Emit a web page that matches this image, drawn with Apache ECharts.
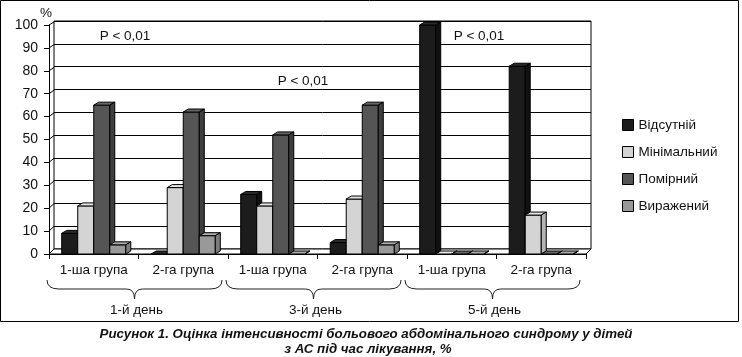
<!DOCTYPE html>
<html>
<head>
<meta charset="utf-8">
<script src="https://cdn.jsdelivr.net/npm/echarts@6/dist/echarts.min.js"></script>
<style>
html,body{margin:0;padding:0;background:#fff;}
#c{width:742px;height:357px;}
</style>
</head>
<body>
<div id="c"></div>
<script>
const categories = ['1-ша група', '2-га група', '1-ша група', '2-га група', '1-ша група', '2-га група'];
const days = ['1-й день', '3-й день', '5-й день'];
const seriesNames = ['Відсутній', 'Мінімальний', 'Помірний', 'Виражений'];
const absent   = [9, 0, 26, 5, 100, 82];
const minimal  = [21, 29, 21, 24, 0, 17];
const moderate = [65, 62, 52, 65, 0, 0];
const severe   = [4, 8, 0, 4, 0, 0];
const yTicks = {min: 0, max: 100, interval: 10};
const pLabels = ['P < 0,01', 'P < 0,01', 'P < 0,01'];
const captionLines = ['Рисунок 1. Оцінка інтенсивності больового абдомінального синдрому у дітей', 'з АС під час лікування, %'];

const seriesData = [absent, minimal, moderate, severe];
const faces = [
  {front: '#1c1c1c', top: '#2a2a2a', side: '#111111'},
  {front: '#d4d4d4', top: '#e6e6e6', side: '#b4b4b4'},
  {front: '#555555', top: '#666666', side: '#3e3e3e'},
  {front: '#999999', top: '#aaaaaa', side: '#7c7c7c'}
];
const FONT = '"Liberation Sans", Arial, sans-serif';
const DX = 5, DY = 3;

function barRenderer(s) {
  return function (params, api) {
    const c = api.value(0), v = api.value(1);
    const base = api.coord([c, 0]);
    const top = api.coord([c, v]);
    const cw = api.size([1, 0])[0];
    const bw = cw * 0.179;
    const x0 = base[0] - 2 * bw + s * bw;
    const x1 = x0 + bw;
    const y0 = base[1], y1 = top[1];
    const f = faces[s];
    const st = {stroke: '#000', lineWidth: 1, lineJoin: 'round'};
    return {
      type: 'group',
      children: [
        {type: 'rect', shape: {x: x0, y: y1, width: bw, height: y0 - y1}, style: Object.assign({fill: f.front}, st)},
        {type: 'polygon', shape: {points: [[x0, y1], [x1, y1], [x1 + DX, y1 - DY], [x0 + DX, y1 - DY]]}, style: Object.assign({fill: f.top}, st)},
        {type: 'polygon', shape: {points: [[x1, y1], [x1 + DX, y1 - DY], [x1 + DX, y0 - DY], [x1, y0]]}, style: Object.assign({fill: f.side}, st)}
      ]
    };
  };
}

const barSeries = seriesData.map((arr, s) => ({
  name: seriesNames[s],
  type: 'custom',
  xAxisIndex: 0, yAxisIndex: 0,
  z: 5,
  itemStyle: {color: faces[s].front, borderColor: '#000', borderWidth: 1},
  renderItem: barRenderer(s),
  encode: {x: 0, y: 1},
  data: arr.map((v, i) => [i, v])
}));

const floorSeries = {
  type: 'custom', xAxisIndex: 0, yAxisIndex: 0, z: 3, silent: true,
  renderItem: function (params, api) {
    const cw = api.size([1, 0])[0];
    const a = api.coord([0, 0]);
    const b = api.coord([categories.length - 1, 0]);
    const L = a[0] - cw / 2, R = b[0] + cw / 2, y = a[1];
    return {type: 'polygon', shape: {points: [[L, y], [R, y], [R + 5, y - 5], [L + 5, y - 5]]}, style: {fill: '#fff', stroke: '#000', lineWidth: 1}};
  },
  data: [[0, 0]]
};

const wallSeries = {
  type: 'custom', xAxisIndex: 0, yAxisIndex: 0, z: 2, silent: true, clip: false,
  renderItem: function (params, api) {
    const v = api.value(0);
    const cw = api.size([1, 0])[0];
    const p = api.coord([0, v]);
    const L = p[0] - cw / 2;
    return {type: 'line', shape: {x1: L, y1: p[1], x2: L + 5, y2: p[1] - 3 - (100 - v) * 0.02}, style: {stroke: '#000', lineWidth: 1}};
  },
  data: [[10], [20], [30], [40], [50], [60], [70], [80], [90], [100]]
};

const braceSeries = {
  type: 'custom', xAxisIndex: 0, yAxisIndex: 0, z: 4, silent: true, clip: false,
  renderItem: function (params, api) {
    const g = api.value(0);
    const cw = api.size([1, 0])[0];
    const a = api.coord([2 * g, 0]);
    const b = api.coord([2 * g + 1, 0]);
    const L = a[0] - cw / 2 - 2, R = b[0] + cw / 2 - 6, M = (L + R) / 2;
    const y0 = a[1];
    const yE = y0 + 26, yH = y0 + 35, yT = y0 + 45;
    const st = {stroke: '#222', lineWidth: 1, fill: null};
    return {
      type: 'group',
      children: [
        {type: 'bezierCurve', shape: {x1: L, y1: yE, cpx1: L, cpy1: yH, x2: L + 12, y2: yH}, style: st},
        {type: 'line', shape: {x1: L + 12, y1: yH, x2: M - 8, y2: yH}, style: st},
        {type: 'bezierCurve', shape: {x1: M - 8, y1: yH, cpx1: M, cpy1: yH, x2: M, y2: yT}, style: st},
        {type: 'bezierCurve', shape: {x1: M, y1: yT, cpx1: M, cpy1: yH, x2: M + 8, y2: yH}, style: st},
        {type: 'line', shape: {x1: M + 8, y1: yH, x2: R - 12, y2: yH}, style: st},
        {type: 'bezierCurve', shape: {x1: R - 12, y1: yH, cpx1: R, cpy1: yH, x2: R, y2: yE}, style: st},
        {type: 'text', x: M + 2, y: y0 + 56, style: {text: days[g], fill: '#111', font: '13.5px ' + FONT, align: 'center', verticalAlign: 'middle'}}
      ]
    };
  },
  data: days.map((d, i) => [i])
};

const chart = echarts.init(document.getElementById('c'), null, {renderer: 'canvas'});
chart.setOption({
  animation: false,
  backgroundColor: '#fff',
  textStyle: {fontFamily: FONT},
  grid: [
    {left: 49, top: 25, width: 537, height: 229, containLabel: false},
    {left: 54, top: 21, width: 537, height: 228, show: true, borderColor: '#000', borderWidth: 1, backgroundColor: 'transparent'}
  ],
  xAxis: [
    {type: 'category', gridIndex: 0, data: categories,
     axisLine: {lineStyle: {color: '#000', width: 1}},
     axisTick: {show: true, length: 5, interval: 0, lineStyle: {color: '#000'}},
     axisLabel: {interval: 0, margin: 9, fontSize: 13.5, color: '#111', fontFamily: FONT},
     splitLine: {show: false}},
    {type: 'category', gridIndex: 1, data: categories, show: false}
  ],
  yAxis: [
    {type: 'value', gridIndex: 0, min: yTicks.min, max: yTicks.max, interval: yTicks.interval,
     axisLine: {show: true, lineStyle: {color: '#000', width: 1}},
     axisTick: {show: true, length: 5, lineStyle: {color: '#000'}},
     axisLabel: {margin: 11, fontSize: 14, color: '#111', fontFamily: FONT},
     splitLine: {show: false}},
    {type: 'value', gridIndex: 1, min: yTicks.min, max: yTicks.max, interval: yTicks.interval,
     axisLine: {show: false}, axisTick: {show: false}, axisLabel: {show: false},
     splitLine: {show: true, lineStyle: {color: '#000', width: 1}}}
  ],
  legend: {
    orient: 'vertical', left: 617, top: 113,
    itemWidth: 11, itemHeight: 11, itemGap: 13,
    icon: 'rect',
    itemStyle: {borderColor: '#000', borderWidth: 1},
    textStyle: {fontSize: 13.5, color: '#111', fontFamily: FONT},
    data: seriesNames
  },
  graphic: [
    {type: 'rect', shape: {x: 0.5, y: 0.5, width: 738, height: 321}, style: {fill: null, stroke: '#000', lineWidth: 1}, z: 0, silent: true},
    {type: 'text', x: 46, y: 13, style: {text: '%', font: '13.5px ' + FONT, fill: '#111', align: 'center', verticalAlign: 'middle'}},
    {type: 'text', x: 125, y: 36, style: {text: pLabels[0], font: '13.5px ' + FONT, fill: '#111', align: 'center', verticalAlign: 'middle'}, z: 10},
    {type: 'text', x: 303, y: 81, style: {text: pLabels[1], font: '13.5px ' + FONT, fill: '#111', align: 'center', verticalAlign: 'middle'}, z: 10},
    {type: 'text', x: 479, y: 36, style: {text: pLabels[2], font: '13.5px ' + FONT, fill: '#111', align: 'center', verticalAlign: 'middle'}, z: 10},
    {type: 'text', x: 366, y: 334, style: {text: captionLines[0], font: 'italic bold 13.3px ' + FONT, fill: '#111', align: 'center', verticalAlign: 'middle'}},
    {type: 'text', x: 368, y: 349, style: {text: captionLines[1], font: 'italic bold 13.3px ' + FONT, fill: '#111', align: 'center', verticalAlign: 'middle'}}
  ],
  series: [floorSeries, wallSeries].concat(barSeries, [braceSeries])
});
</script>
</body>
</html>
